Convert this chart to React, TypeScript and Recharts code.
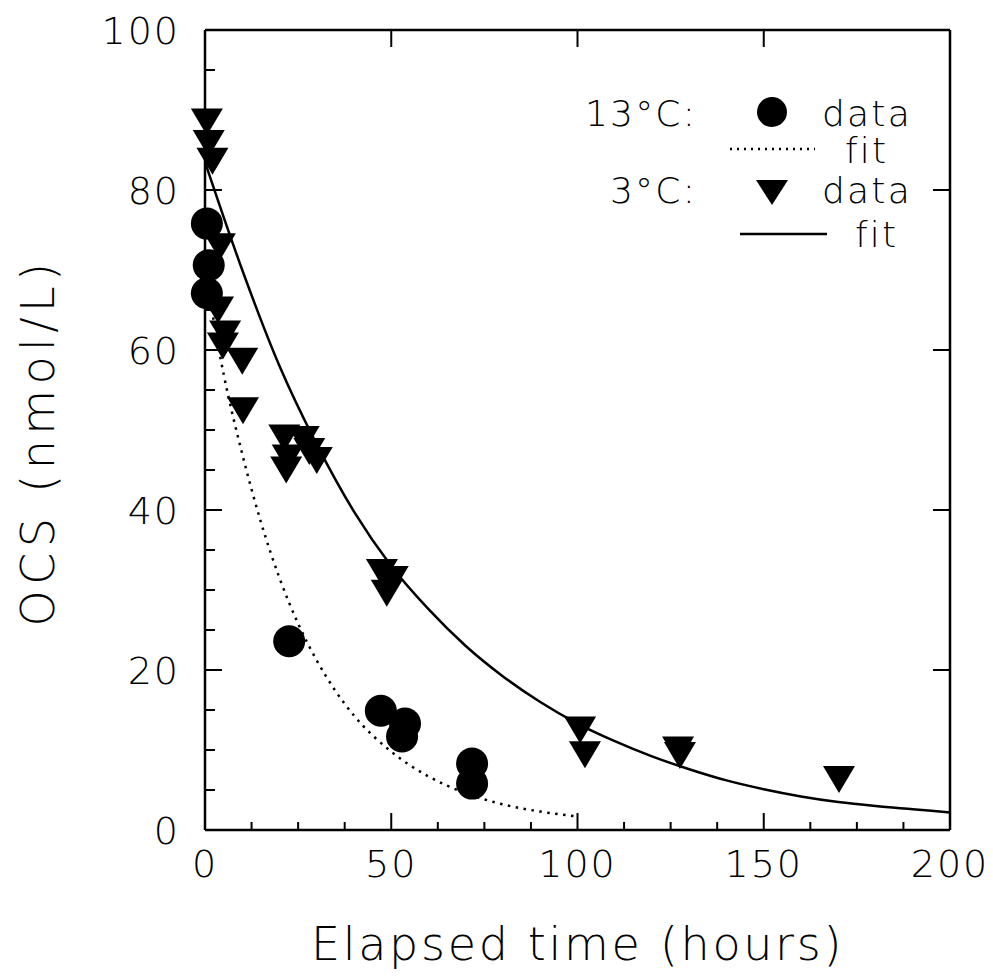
import React from "react";
import { ComposedChart, Line, Scatter, XAxis, YAxis } from "recharts";

// 13 °C measurements (hours, nmol/L)
const data13 = [
  { t: 0.5, v: 75.8 },
  { t: 1.0, v: 70.6 },
  { t: 0.5, v: 67.1 },
  { t: 22.6, v: 23.6 },
  { t: 47.2, v: 14.9 },
  { t: 53.7, v: 13.3 },
  { t: 52.9, v: 11.7 },
  { t: 71.7, v: 8.3 },
  { t: 71.7, v: 5.8 },
];

// 3 °C measurements
const data3 = [
  { t: 0.5, v: 88.5 },
  { t: 1.0, v: 85.8 },
  { t: 2.0, v: 83.6 },
  { t: 4.0, v: 72.9 },
  { t: 3.5, v: 65.0 },
  { t: 5.4, v: 62.0 },
  { t: 4.8, v: 60.5 },
  { t: 10.0, v: 58.6 },
  { t: 10.2, v: 52.4 },
  { t: 21.3, v: 49.0 },
  { t: 26.5, v: 48.8 },
  { t: 22.2, v: 46.5 },
  { t: 21.8, v: 45.0 },
  { t: 28.0, v: 47.3 },
  { t: 30.0, v: 46.2 },
  { t: 47.5, v: 32.2 },
  { t: 50.4, v: 31.3 },
  { t: 48.8, v: 29.6 },
  { t: 100.7, v: 12.5 },
  { t: 102.0, v: 9.4 },
  { t: 127.0, v: 10.0 },
  { t: 127.5, v: 9.3 },
  { t: 170.2, v: 6.3 },
];

// fitted curve, 13 °C
const fit13 = [
  { t: 0, v: 70 },
  { t: 5, v: 57 },
  { t: 10, v: 47 },
  { t: 15, v: 38.5 },
  { t: 20, v: 31.5 },
  { t: 25, v: 25.8 },
  { t: 30, v: 21.2 },
  { t: 35, v: 17.4 },
  { t: 40, v: 14.3 },
  { t: 50, v: 9.8 },
  { t: 60, v: 6.7 },
  { t: 70, v: 4.6 },
  { t: 80, v: 3.2 },
  { t: 90, v: 2.3 },
  { t: 100, v: 1.7 },
];

// fitted curve, 3 °C
const fit3 = [
  { t: 0, v: 83.5 },
  { t: 10, v: 70 },
  { t: 20, v: 58 },
  { t: 30, v: 48.2 },
  { t: 40, v: 39.8 },
  { t: 50, v: 33.0 },
  { t: 60, v: 27.6 },
  { t: 70, v: 23.0 },
  { t: 80, v: 19.2 },
  { t: 90, v: 16.0 },
  { t: 100, v: 13.3 },
  { t: 110, v: 11.1 },
  { t: 120, v: 9.2 },
  { t: 130, v: 7.6 },
  { t: 140, v: 6.2 },
  { t: 150, v: 5.1 },
  { t: 160, v: 4.2 },
  { t: 170, v: 3.5 },
  { t: 180, v: 3.0 },
  { t: 190, v: 2.6 },
  { t: 200, v: 2.2 },
];

const xTicks = [0, 12.5, 25, 37.5, 50, 62.5, 75, 87.5, 100, 112.5, 125, 137.5, 150, 162.5, 175, 187.5, 200];
const xMajorTicks = [50, 100, 150];
const yTicks = [0, 5, 10, 15, 20, 25, 30, 35, 40, 45, 50, 55, 60, 65, 70, 75, 80, 85, 90, 95, 100];
const yMajorTicks = [20, 40, 60, 80];

const xTitle = "Elapsed time (hours)";
const yTitle = "OCS (nmol/L)";

const FONT = "'DejaVu Sans', sans-serif";
const FW = 200;
const W = 985;
const H = 969;

const LeftTick = (p: any) => {
  const major = p.payload.value % 20 === 0;
  return (
    <g>
      <line x1={p.x} x2={p.x + (major ? 17 : 10)} y1={p.y} y2={p.y} stroke="#000" strokeWidth={2} />
      {major && (
        <text x={p.x - 25} y={p.y + 14} textAnchor="end" fontFamily={FONT} fontWeight={FW} fontSize={38} letterSpacing={2} fill="#000">
          {p.payload.value}
        </text>
      )}
    </g>
  );
};

const BottomTick = (p: any) => {
  const major = p.payload.value % 50 === 0;
  return (
    <g>
      <line x1={p.x} x2={p.x} y1={p.y} y2={p.y - (major ? 17 : 8)} stroke="#000" strokeWidth={2} />
      {major && (
        <text x={p.x} y={p.y + 47} textAnchor="middle" fontFamily={FONT} fontWeight={FW} fontSize={38} letterSpacing={2} fill="#000">
          {p.payload.value}
        </text>
      )}
    </g>
  );
};

const TopTick = (p: any) => (
  <line x1={p.x} x2={p.x} y1={p.y} y2={p.y + 17} stroke="#000" strokeWidth={2} />
);

const RightTick = (p: any) => (
  <line x1={p.x} x2={p.x - 17} y1={p.y} y2={p.y} stroke="#000" strokeWidth={2} />
);

const Circle = (p: any) => <circle cx={p.cx} cy={p.cy} r={16} fill="#000" />;

const DownTri = (p: any) => {
  const w = 32;
  const h = 27;
  const pts = `${p.cx - w / 2},${p.cy - h / 2} ${p.cx + w / 2},${p.cy - h / 2} ${p.cx},${p.cy + h / 2}`;
  return <polygon points={pts} fill="#000" />;
};

const XTitle = (p: any) => {
  const vb = p.viewBox;
  return (
    <text x={vb.x + vb.width / 2} y={vb.y + 130} textAnchor="middle" fontFamily={FONT} fontWeight={FW} fontSize={46} letterSpacing={2.7} fill="#000">
      {xTitle}
    </text>
  );
};

const YTitle = (p: any) => {
  const vb = p.viewBox;
  const cx = vb.x + vb.width - 167;
  const cy = vb.y + vb.height / 2 + 12;
  return (
    <text
      x={cx}
      y={cy}
      transform={`rotate(-90, ${cx}, ${cy})`}
      textAnchor="middle"
      dominantBaseline="central"
      fontFamily={FONT}
      fontWeight={FW}
      fontSize={46}
      letterSpacing={5.4}
      fill="#000"
    >
      {yTitle}
    </text>
  );
};

const LegendBox = () => {
  const ts = { fontFamily: FONT, fontWeight: FW, fontSize: 36, letterSpacing: 2.2, fill: "#000" } as any;
  return (
    <svg width={W} height={H} style={{ position: "absolute", left: 0, top: 0, pointerEvents: "none" }}>
      <text x={689} y={118} textAnchor="end" {...ts}>13°C:</text>
      <circle cx={764} cy={104} r={15} fill="#000" />
      <text x={814} y={118} {...ts}>data</text>
      <line x1={722} x2={807} y1={141} y2={141} stroke="#000" strokeWidth={2.5} strokeDasharray="2 5" />
      <text x={837} y={155} {...ts}>fit</text>
      <text x={689} y={195} textAnchor="end" {...ts}>3°C:</text>
      <polygon points={`${748},${172} ${780},${172} ${764},${197}`} fill="#000" />
      <text x={814} y={195} {...ts}>data</text>
      <line x1={732} x2={819} y1={226} y2={226} stroke="#000" strokeWidth={2.5} />
      <text x={847} y={239} {...ts}>fit</text>
    </svg>
  );
};

export default function App() {
  return (
    <div style={{ position: "relative", width: W, height: H }}>
      <ComposedChart width={W} height={H} margin={{ top: 21, right: 42, bottom: 146, left: 196 }}>
        <XAxis
          xAxisId="b"
          type="number"
          dataKey="t"
          domain={[0, 200]}
          ticks={xTicks}
          interval={0}
          height={1}
          tickSize={0}
          tickMargin={0}
          tickLine={false}
          axisLine={{ stroke: "#000", strokeWidth: 2.5 }}
          tick={<BottomTick />}
          label={XTitle}
        />
        <XAxis
          xAxisId="t"
          orientation="top"
          type="number"
          dataKey="t"
          domain={[0, 200]}
          ticks={xMajorTicks}
          interval={0}
          height={1}
          tickSize={0}
          tickMargin={0}
          tickLine={false}
          axisLine={{ stroke: "#000", strokeWidth: 2.5 }}
          tick={<TopTick />}
        />
        <YAxis
          yAxisId="l"
          type="number"
          dataKey="v"
          domain={[0, 100]}
          ticks={yTicks}
          interval={0}
          width={1}
          tickSize={0}
          tickMargin={0}
          tickLine={false}
          axisLine={{ stroke: "#000", strokeWidth: 2.5 }}
          tick={<LeftTick />}
          label={YTitle}
        />
        <YAxis
          yAxisId="r"
          orientation="right"
          type="number"
          dataKey="v"
          domain={[0, 100]}
          ticks={yMajorTicks}
          interval={0}
          width={1}
          tickSize={0}
          tickMargin={0}
          tickLine={false}
          axisLine={{ stroke: "#000", strokeWidth: 2.5 }}
          tick={<RightTick />}
        />
        <Line
          xAxisId="t"
          yAxisId="r"
          data={fit3}
          dataKey="v"
          stroke="none"
          dot={false}
          isAnimationActive={false}
        />
        <Line
          xAxisId="b"
          yAxisId="l"
          data={fit13}
          dataKey="v"
          type="monotone"
          stroke="#000"
          strokeWidth={2.5}
          strokeDasharray="2.5 5.5"
          dot={false}
          isAnimationActive={false}
        />
        <Line
          xAxisId="b"
          yAxisId="l"
          data={fit3}
          dataKey="v"
          type="monotone"
          stroke="#000"
          strokeWidth={2.5}
          dot={false}
          isAnimationActive={false}
        />
        <Scatter xAxisId="b" yAxisId="l" data={data13} dataKey="v" shape={<Circle />} isAnimationActive={false} />
        <Scatter xAxisId="b" yAxisId="l" data={data3} dataKey="v" shape={<DownTri />} isAnimationActive={false} />
      </ComposedChart>
      <LegendBox />
    </div>
  );
}
